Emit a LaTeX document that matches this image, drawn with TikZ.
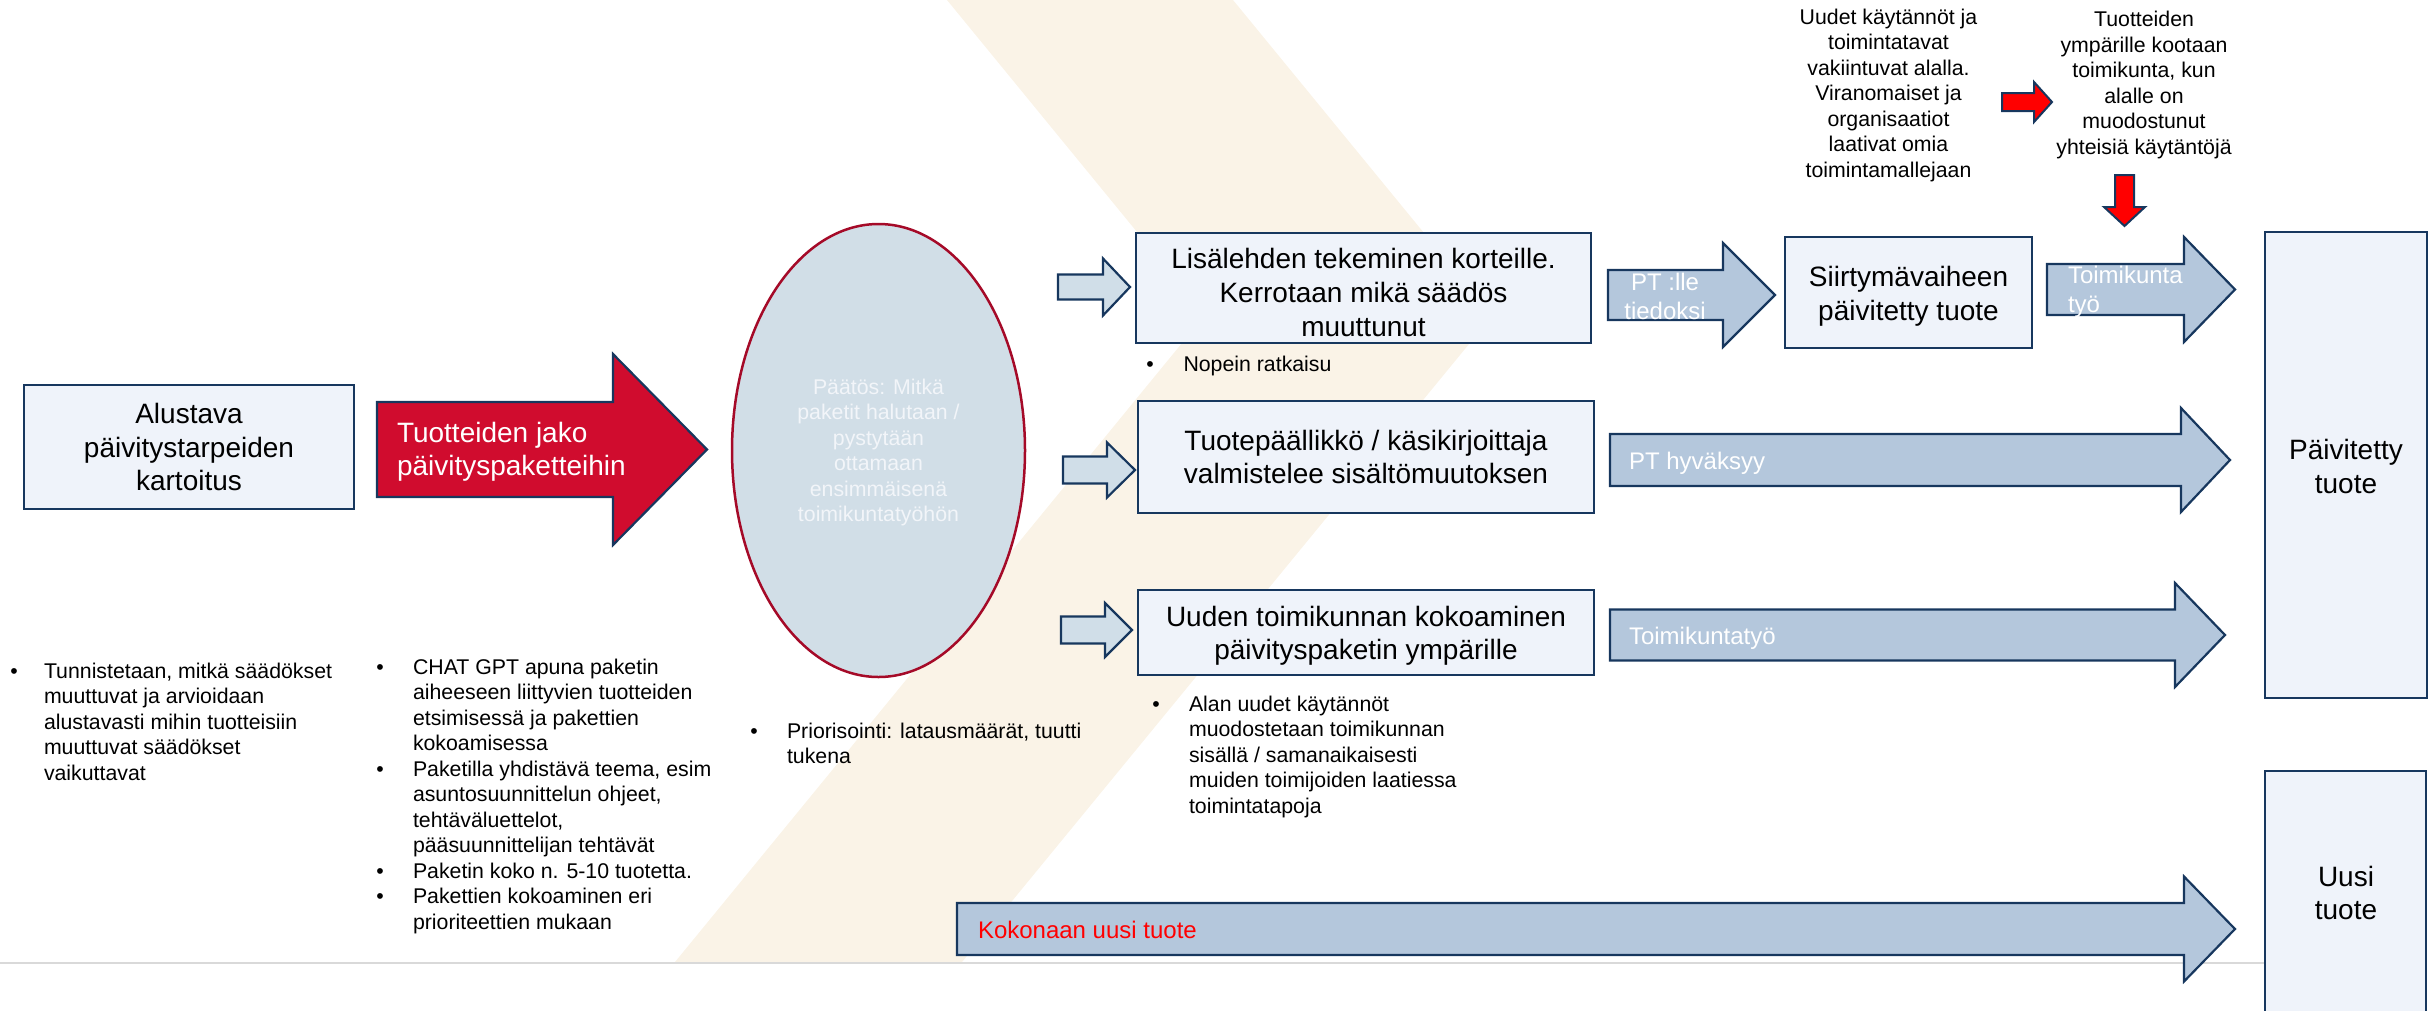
\documentclass[tikz,border=0pt]{standalone}
\usepackage{fontspec}
\setmainfont{Liberation Sans}
\usetikzlibrary{shapes.geometric}
\definecolor{navy}{RGB}{23,55,94}
\definecolor{boxfill}{RGB}{239,243,250}
\definecolor{arrfill}{RGB}{180,199,220}
\definecolor{smallfill}{RGB}{208,222,232}
\definecolor{ellfill}{RGB}{209,222,231}
\definecolor{elldraw}{RGB}{165,10,40}
\definecolor{bigred}{RGB}{208,12,46}
\definecolor{beige}{RGB}{250,243,231}
\definecolor{rule}{RGB}{217,217,217}
\definecolor{elltext}{RGB}{242,245,249}
\definecolor{pured}{RGB}{255,0,0}
\newcommand\barrow[7]{\path[#1] (#2,{#5-#6}) -- (#3,{#5-#6}) -- (#3,{#5-#7}) -- (#4,#5) -- (#3,{#5+#7}) -- (#3,{#5+#6}) -- (#2,{#5+#6}) -- cycle;}
\begin{document}
\begin{tikzpicture}[x=1pt,y=-1pt,
  txt/.style={inner sep=0pt,outer sep=0pt},
  big/.style={txt,font=\fontsize{28}{33.6}\selectfont,align=center},
  bigl/.style={txt,font=\fontsize{28}{33.6}\selectfont,align=left},
  small/.style={txt,font=\fontsize{21.3}{25.5}\selectfont,align=left},
  smallc/.style={txt,font=\fontsize{21.3}{25.5}\selectfont,align=center},
  mid/.style={txt,font=\fontsize{24}{28.8}\selectfont},
  box/.style={draw=navy,fill=boxfill,line width=2.5pt,inner sep=0pt},
  barr/.style={draw=navy,fill=arrfill,line width=2.2pt,line join=miter},
  sarr/.style={draw=navy,fill=smallfill,line width=2.2pt,line join=miter},
  rarr/.style={draw=navy,fill=bigred,line width=2.2pt,line join=miter},
  parr/.style={draw=navy,fill=pured,line width=2pt,line join=miter},
  dot/.style={txt,font=\fontsize{21.3}{25.5}\selectfont,anchor=base west}]
\useasboundingbox (0,0) rectangle (2433,1010);
\clip (0,0) rectangle (2433,1010);
% background chevron and rule
\fill[beige] (947,0) -- (1233,0) -- (1492,316) -- (962,962) -- (675,962) -- (1205,315) -- cycle;
\draw[rule,line width=2pt] (0,963) -- (2265,963);

% first box
\node[box,minimum width=330,minimum height=124] (kart) at (189,447) {};
\node[big] (kartT) at (189,450.3) {\strut Alustava\\\strut päivitystarpeiden\\\strut kartoitus};

% red block arrow
\barrow{rarr}{377}{613}{707}{449.5}{47.5}{95.5}
\node[bigl,text=white,anchor=west] (jako) at (397,452.3) {\strut Tuotteiden jako\\\strut päivityspaketteihin};

% decision ellipse
\node[ellipse,draw=elldraw,fill=ellfill,line width=2.5pt,minimum width=293,minimum height=453,inner sep=0pt] (paatos) at (878.5,450.5) {};
\node[smallc,text=elltext] (paatosT) at (878.5,452.8) {\strut Päätös: Mitkä\\\strut paketit halutaan /\\\strut pystytään\\\strut ottamaan\\\strut ensimmäisenä\\\strut toimikuntatyöhön};

% small arrows
\barrow{sarr}{1058}{1103}{1130}{287}{12.5}{28.5}
\barrow{sarr}{1063}{1107}{1135}{470}{13.5}{27.5}
\barrow{sarr}{1061}{1105}{1132}{630}{13.5}{27}

% middle boxes
\node[box,minimum width=455,minimum height=110] (lisa) at (1363.5,288) {};
\node[big] (lisaT) at (1363.5,295.8) {\strut Lisälehden tekeminen korteille.\\\strut Kerrotaan mikä säädös\\\strut muuttunut};
\node[box,minimum width=456,minimum height=112] (tuote) at (1366,457) {};
\node[big] (tuoteT) at (1366,460.3) {\strut Tuotepäällikkö / käsikirjoittaja\\\strut valmistelee sisältömuutoksen};
\node[box,minimum width=456,minimum height=85] (uuden) at (1366,632.5) {};
\node[big] (uudenT) at (1366,636.3) {\strut Uuden toimikunnan kokoaminen\\\strut päivityspaketin ympärille};

% transition box
\node[box,minimum width=247,minimum height=111] (siirt) at (1908.5,292.5) {};
\node[big] (siirtT) at (1908.5,296.8) {\strut Siirtymävaiheen\\\strut päivitetty tuote};

% right boxes
\node[box,minimum width=162,minimum height=466] (paiv) at (2346,465) {};
\node[big] (paivT) at (2346,469.8) {\strut Päivitetty\\\strut tuote};
\node[box,minimum width=161,minimum height=250] (uusi) at (2345.5,896) {};
\node[big] (uusiT) at (2346,896.3) {\strut Uusi\\\strut tuote};

% long block arrows
\barrow{barr}{1608}{1723}{1775}{295}{25}{52}
\node[mid,text=white,align=center] (ptlle) at (1665,299) {\strut PT :lle\\\strut tiedoksi};
\barrow{barr}{2047}{2184}{2235}{289.5}{25.5}{52.5}
\node[mid,text=white,align=left,anchor=west] (tk1) at (2068,292.6) {\strut Toimikunta\\\strut työ};
\barrow{barr}{1610}{2181}{2230}{460}{26}{52}
\node[mid,text=white,anchor=west] (pthyv) at (1629,463.4) {\strut PT hyväksyy};
\barrow{barr}{1610}{2175}{2225}{635}{25.5}{52}
\node[mid,text=white,anchor=west] (tk2) at (1629,638.4) {\strut Toimikuntatyö};
\barrow{barr}{957}{2184}{2235}{929}{26}{52.5}
\node[mid,text=pured,anchor=west] (kok) at (978,932.4) {\strut Kokonaan uusi tuote};

% top texts and red arrows
\node[smallc] (top1) at (1888.5,95.8) {\strut Uudet käytännöt ja\\\strut toimintatavat\\\strut vakiintuvat alalla.\\\strut Viranomaiset ja\\\strut organisaatiot\\\strut laativat omia\\\strut toimintamallejaan};
\node[smallc] (top2) at (2144,85.3) {\strut Tuotteiden\\\strut ympärille kootaan\\\strut toimikunta, kun\\\strut alalle on\\\strut muodostunut\\\strut yhteisiä käytäntöjä};
\barrow{parr}{2002}{2034}{2052}{102}{9}{20}
\path[parr] (2115,175) -- (2134,175) -- (2134,207) -- (2145,207) -- (2124.5,226) -- (2104,207) -- (2115,207) -- cycle;

% bullet texts
\node[dot] (d1) at (10.3,678.4) {•};
\node[small,anchor=north west] (b1) at (44,660.55) {\strut Tunnistetaan, mitkä säädökset\\\strut muuttuvat ja arvioidaan\\\strut alustavasti mihin tuotteisiin\\\strut muuttuvat säädökset\\\strut vaikuttavat};
\node[dot] (d2a) at (376.3,674.4) {•};
\node[dot] (d2b) at (376.3,776.4) {•};
\node[dot] (d2c) at (376.3,878.4) {•};
\node[dot] (d2d) at (376.3,903.9) {•};
\node[small,anchor=north west] (b2) at (413,656.55) {\strut CHAT GPT apuna paketin\\\strut aiheeseen liittyvien tuotteiden\\\strut etsimisessä ja pakettien\\\strut kokoamisessa\\\strut Paketilla yhdistävä teema, esim\\\strut asuntosuunnittelun ohjeet,\\\strut tehtäväluettelot,\\\strut pääsuunnittelijan tehtävät\\\strut Paketin koko n. 5-10 tuotetta.\\\strut Pakettien kokoaminen eri\\\strut prioriteettien mukaan};
\node[dot] (d3) at (750.3,738.4) {•};
\node[small,anchor=north west] (b3) at (787,720.55) {\strut Priorisointi: latausmäärät, tuutti\\\strut tukena};
\node[dot] (d4) at (1152.3,711.4) {•};
\node[small,anchor=north west] (b4) at (1189,693.55) {\strut Alan uudet käytännöt\\\strut muodostetaan toimikunnan\\\strut sisällä / samanaikaisesti\\\strut muiden toimijoiden laatiessa\\\strut toimintatapoja};
\node[dot] (d5) at (1146.3,371.4) {•};
\node[small,anchor=north west] (b5) at (1183.5,353.55) {\strut Nopein ratkaisu};
\end{tikzpicture}
\end{document}
